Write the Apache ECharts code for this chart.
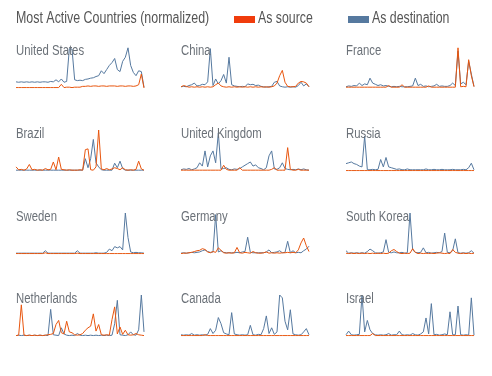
<!DOCTYPE html>
<html>
<head>
<meta charset="utf-8">
<script src="https://cdn.jsdelivr.net/npm/echarts@6/dist/echarts.min.js"></script>
<style>
  html, body { margin: 0; padding: 0; background: #fff; }
  #chart { width: 492px; height: 376px; }
</style>
</head>
<body>
<div id="chart"></div>
<script>
// normalized activity per country (0-100), one value per time step
const countries = ['United States', 'China', 'France', 'Brazil', 'United Kingdom', 'Russia',
  'Sweden', 'Germany', 'South Korea', 'Netherlands', 'Canada', 'Israel'];
const legendNames = ['As source', 'As destination'];

const usDst = [15,14,15,14,15,14,15,14,15,14,15,15,14,16,15,20,15,22,14,16,96,95,20,18,19,18,21,22,24,25,28,30,42,35,45,55,62,72,45,40,65,75,98,55,38,30,42,40,2];
const usSrc = [1,1,1,1,1,1,1,1,1,1,1,1,1,1,1,1,1,9,1,2,2,1,2,2,2,4,4,5,4,5,5,4,5,5,4,5,5,5,4,5,5,4,5,5,4,5,8,34,0];

const cnDst = [3,4,3,6,8,12,5,6,9,8,15,96,6,22,10,18,33,12,75,8,5,4,3,4,3,10,8,9,6,7,4,3,2,3,4,14,16,5,3,2,3,2,3,2,6,14,5,10,3];
const cnSrc = [3,6,4,2,3,2,3,2,3,2,3,2,3,8,12,5,3,2,3,2,3,2,3,2,3,2,3,2,3,2,3,2,3,2,3,5,12,30,43,14,4,3,3,4,12,16,15,12,3];

const frDst = [3,5,4,6,5,12,6,10,8,24,12,9,6,8,5,6,4,3,4,3,4,3,3,3,4,5,24,6,9,4,5,3,4,5,9,4,5,4,4,6,12,6,90,10,14,8,65,34,4];
const frSrc = [2,2,2,2,2,2,2,2,2,2,2,2,2,2,2,2,6,2,2,2,2,8,2,2,2,2,2,2,2,2,2,5,2,2,2,2,2,2,2,2,2,2,98,3,4,3,69,30,3];

const brDst = [2,2,2,2,2,2,2,2,2,2,2,2,2,2,2,2,2,2,2,2,2,2,2,2,2,2,30,8,30,77,20,10,3,2,2,2,2,19,8,24,6,2,2,2,2,2,2,2,2];
const brSrc = [10,3,4,2,5,16,3,4,2,3,2,6,3,4,22,3,34,4,3,2,3,2,2,2,3,2,52,54,3,2,10,100,5,3,6,3,5,8,6,3,8,3,2,3,2,4,24,5,2];

const ukDst = [3,5,4,6,3,5,8,20,12,49,10,37,49,20,93,5,6,8,4,3,5,4,6,10,14,18,22,12,15,8,6,3,8,37,49,5,4,8,20,6,4,3,4,3,5,3,5,3,2];
const ukSrc = [2,2,2,2,2,2,2,2,2,2,2,2,2,2,2,2,14,4,2,2,2,2,8,2,2,2,2,2,2,2,2,2,2,2,4,8,2,2,2,2,57,4,2,2,4,2,2,2,2];

const ruDst = [18,20,22,18,16,12,10,85,3,3,4,3,4,28,10,33,10,8,6,4,5,3,3,5,3,3,3,3,3,3,5,3,3,4,3,3,4,3,3,3,4,3,3,3,4,3,8,19,3];
const ruSrc = [1,1,1,1,1,1,1,1,1,1,1,1,1,1,1,1,1,1,1,1,1,1,1,1,1,1,1,1,1,1,1,1,1,1,1,1,1,1,1,1,1,1,1,1,1,1,1,1,1];

const seDst = [2,2,2,2,2,2,2,2,2,2,2,8,2,2,2,2,2,2,2,2,2,2,2,8,2,2,2,2,2,2,3,2,2,2,4,12,8,18,15,18,10,100,40,5,3,4,3,3,2];
const seSrc = [1,1,1,1,1,1,1,1,1,1,1,3,1,1,1,1,1,1,1,1,1,1,1,2,1,1,1,1,1,1,1,1,1,1,1,1,1,1,1,1,1,1,1,1,1,1,1,1,1];

const deDst = [2,3,2,3,4,3,4,5,8,10,6,4,5,96,5,8,4,3,3,3,3,4,3,5,6,41,4,3,3,3,3,3,5,10,3,4,5,8,3,4,31,3,8,3,4,3,8,12,19];
const deSrc = [1,2,2,3,4,6,8,9,13,11,5,3,6,4,15,9,3,2,3,2,3,16,3,2,4,3,2,6,3,2,2,3,5,2,3,2,3,2,3,3,4,3,4,3,10,27,39,20,6];

const krDst = [8,2,3,2,3,2,3,2,6,12,8,3,2,3,5,35,4,3,5,3,3,4,2,3,100,10,4,3,4,15,3,4,2,3,4,3,6,51,4,3,8,37,3,2,3,2,3,8,2];
const krSrc = [2,1,2,1,2,1,2,1,2,1,2,1,2,1,2,1,2,8,11,6,2,1,2,1,2,13,4,1,2,1,2,1,2,1,2,3,2,1,2,1,11,4,2,1,2,1,2,1,2];

const nlDst = [1,2,1,2,1,2,1,2,1,2,1,2,1,65,3,2,1,20,5,2,1,2,1,6,2,1,2,1,2,1,2,1,2,1,2,1,2,30,87,3,2,1,3,10,3,2,15,100,10];
const nlSrc = [1,2,76,2,1,2,1,2,1,2,1,2,3,4,6,28,38,8,5,36,10,8,3,2,3,6,14,20,24,54,12,28,3,2,3,2,40,71,5,22,4,14,3,2,3,6,3,2,1];

const caDst = [3,2,3,2,6,2,3,2,3,2,4,18,6,14,45,30,8,5,3,57,5,3,2,3,2,3,26,3,2,4,3,18,49,6,20,4,10,100,93,36,15,64,5,3,2,3,10,18,3];
const caSrc = [1,1,1,1,1,1,1,1,1,3,1,1,1,1,1,1,1,1,1,1,1,1,1,1,1,1,1,1,1,1,1,1,1,1,1,1,1,1,1,1,1,1,1,1,1,1,1,1,1];

const ilDst = [3,12,3,2,3,4,100,10,38,15,6,3,2,3,2,3,6,2,3,3,12,3,2,3,2,6,3,2,5,10,44,5,79,3,4,2,3,5,3,59,3,3,73,3,2,3,2,93,2];
const ilSrc = [1,1,1,1,1,1,1,1,1,1,6,1,1,1,1,1,1,1,1,1,1,1,1,1,1,1,1,1,1,1,1,1,1,1,1,1,1,1,1,1,1,1,1,1,1,1,1,1,1];

const sourceData = [usSrc, cnSrc, frSrc, brSrc, ukSrc, ruSrc, seSrc, deSrc, krSrc, nlSrc, caSrc, ilSrc];
const destData = [usDst, cnDst, frDst, brDst, ukDst, ruDst, seDst, deDst, krDst, nlDst, caDst, ilDst];

const font = "'Liberation Sans', Arial, sans-serif";
const orange = '#e8560f';
const blue = '#56799f';
const colLeft = [16, 181, 346];
const rowBase = [88, 171, 254, 336];
const panelW = 128;
const panelH = 41;

// no condensed font installed, so text is squeezed horizontally
function squeezed(text, x, y, size, scale, fill) {
  return {
    type: 'text', x: x, y: y, scaleX: scale, z: 10,
    style: { text: text, font: size + 'px ' + font, fill: fill, verticalAlign: 'middle' }
  };
}

const grids = [], xAxes = [], yAxes = [], series = [];
const texts = [
  squeezed('Most Active Countries (normalized)', 16, 19, 16, 0.776, '#555'),
  { type: 'rect', shape: { x: 234, y: 16, width: 21, height: 7 }, style: { fill: '#f03c0c' } },
  squeezed(legendNames[0], 258, 19, 16, 0.77, '#555'),
  { type: 'rect', shape: { x: 348, y: 16, width: 21, height: 7 }, style: { fill: blue } },
  squeezed(legendNames[1], 372, 19, 16, 0.77, '#555')
];

countries.forEach((name, k) => {
  const col = k % 3, row = Math.floor(k / 3);
  const top = rowBase[row] - panelH;
  grids.push({ left: colLeft[col], top: top, width: panelW, height: panelH });
  xAxes.push({ type: 'category', gridIndex: k, show: false, boundaryGap: false,
    data: destData[k].map((_, i) => i) });
  yAxes.push({ type: 'value', gridIndex: k, show: false, min: 0, max: 100 });
  texts.push(squeezed(name, colLeft[col], top + 4, 14, 0.81, '#6b7178'));
  series.push({
    name: legendNames[1], type: 'line', xAxisIndex: k, yAxisIndex: k,
    data: destData[k], showSymbol: false, symbol: 'none',
    lineStyle: { width: 1, color: blue }, itemStyle: { color: blue }
  });
  series.push({
    name: legendNames[0], type: 'line', xAxisIndex: k, yAxisIndex: k,
    data: sourceData[k], showSymbol: false, symbol: 'none',
    lineStyle: { width: 1, color: orange }, itemStyle: { color: orange }
  });
});

const option = {
  animation: false,
  graphic: texts,
  grid: grids,
  xAxis: xAxes,
  yAxis: yAxes,
  series: series
};

const chart = echarts.init(document.getElementById('chart'));
chart.setOption(option);
</script>
</body>
</html>
